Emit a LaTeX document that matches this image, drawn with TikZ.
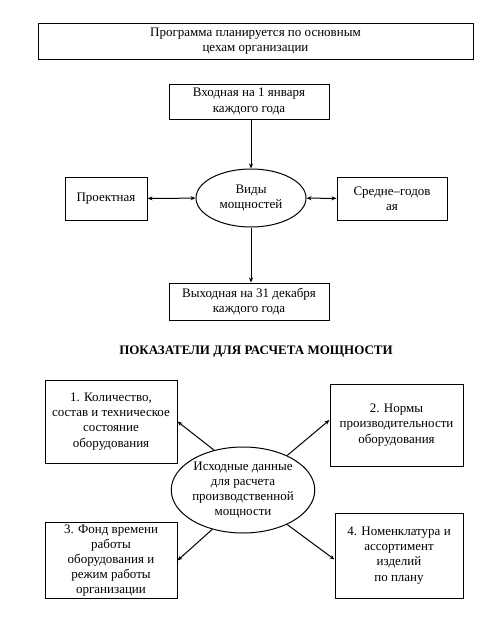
\documentclass[tikz,border=0pt]{standalone}
\usepackage{fontspec}
\setmainfont{Liberation Serif}
\usetikzlibrary{shapes.geometric,arrows.meta}

\begin{document}
\begin{tikzpicture}[x=1pt, y=-1pt, line width=1pt,
  >={Stealth[length=5pt,width=4pt]},
  every node/.style={font=\fontsize{13}{15.2}\selectfont},
  box/.style={rectangle, draw, align=center, inner sep=2pt},
  oval/.style={ellipse, draw, align=center, inner sep=0pt}]
  \useasboundingbox (0,0) rectangle (484,629);

  % upper part: kinds of capacity
  \node[box, minimum width=435pt, minimum height=36pt] (prog) at (255.5,41)
    {Программа планируется по основным\\ цехам организации};
  \node[box, minimum width=160pt, minimum height=35pt] (vhod) at (249,101.5)
    {Входная на 1 января\\ каждого года};
  \node[oval, minimum width=110pt, minimum height=58pt] (vidy) at (251,198)
    {Виды\\ мощностей};
  \node[box, minimum width=82pt, minimum height=43pt] (proekt) at (106,198.5)
    {Проектная};
  \node[box, minimum width=110pt, minimum height=43pt] (sred) at (392,198.5)
    {Средне–годов\\ ая};
  \node[box, minimum width=160pt, minimum height=37pt] (vyhod) at (249,301.5)
    {Выходная на 31 декабря\\ каждого года};

  \draw[->] (vhod.south -| vidy.north) -- (vidy.north);
  \draw[->] (vidy.south) -- (vyhod.north -| vidy.south);
  \path[<->] (proekt) edge (vidy);
  \path[<->] (vidy) edge (sred);

  % lower part: initial data
  \node[font=\fontsize{13}{15.2}\selectfont\bfseries] (titl) at (256,352)
    {ПОКАЗАТЕЛИ ДЛЯ РАСЧЕТА МОЩНОСТИ};
  \node[box, minimum width=132pt, minimum height=83pt] (b1) at (111,421.5)
    {1. Количество,\\ состав и техническое\\ состояние\\ оборудования};
  \node[box, minimum width=133pt, minimum height=82pt] (b2) at (396.5,425)
    {2. Нормы\\ производительности\\ оборудования};
  \node[oval, minimum width=143pt, minimum height=86pt] (isx) at (243,490)
    {Исходные данные\\ для расчета\\ производственной\\ мощности};
  \node[box, minimum width=132pt, minimum height=75pt] (b3) at (111,560.5)
    {3. Фонд времени\\ работы\\ оборудования и\\ режим работы\\ организации};
  \node[box, minimum width=128pt, minimum height=85pt] (b4) at (399,555.5)
    {4. Номенклатура и\\ ассортимент\\ изделий\\ по плану};

  \draw[->] (isx.126) -- (b1.east);
  \draw[->] (isx.38) -- ([yshift=5pt]b2.west);
  \draw[->] (isx.232) -- (b3.east);
  \draw[->] (isx.322) -- ([yshift=-4pt]b4.west);
\end{tikzpicture}
\end{document}
